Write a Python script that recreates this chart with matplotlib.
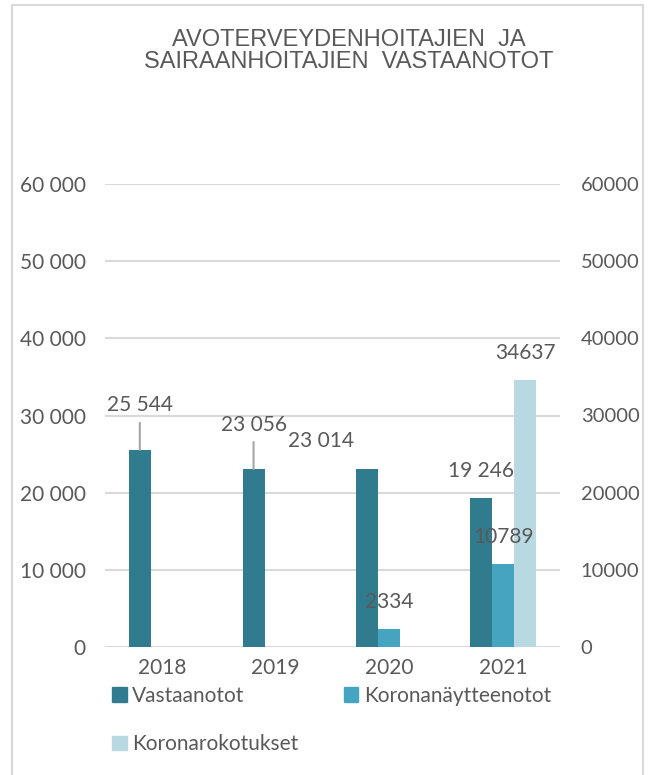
import matplotlib.pyplot as plt
import matplotlib.patches as mpatches
import numpy as np

years = ["2018", "2019", "2020", "2021"]
vastaanotot = [25544, 23056, 23014, 19246]
naytteenotot = [0, 0, 2334, 10789]
rokotukset = [0, 0, 0, 34637]
vast_labels = ["25 544", "23 056", "23 014", "19 246"]

c_dark = "#307b8d"
c_mid = "#45a5c0"
c_light = "#b8d8e2"
grey = "#595959"
font = ["Lato", "DejaVu Sans"]

fig = plt.figure(figsize=(6.51, 7.75), dpi=100)
fig.patches.append(mpatches.Rectangle((12 / 651, -0.01), 631 / 651, 1 - 5 / 775 + 0.01,
                                      transform=fig.transFigure, fill=False,
                                      edgecolor="#d9d9d9", linewidth=1.5))

ax = fig.add_axes([105 / 651, 1 - 647 / 775, 455 / 651, (647 - 184) / 775])
ax2 = ax.twinx()

x = np.arange(len(years))
w = 0.194
ax.bar(x - w, vastaanotot, w, color=c_dark, zorder=3)
ax2.bar(x, naytteenotot, w, color=c_mid, zorder=3)
ax2.bar(x + w, rokotukset, w, color=c_light, zorder=3)

for a in (ax, ax2):
    a.set_ylim(0, 60000)
    a.set_xlim(-0.5, 3.5)
    for s in a.spines.values():
        s.set_visible(False)
    a.tick_params(length=0, labelsize=15, labelcolor=grey)

ax.set_yticks(np.arange(0, 60001, 10000))
ax.set_yticklabels([f"{v:,}".replace(",", " ") for v in range(0, 60001, 10000)], family=font)
ax.tick_params(axis="y", pad=14)
ax2.set_yticks(np.arange(0, 60001, 10000))
ax2.set_yticklabels([str(v) for v in range(0, 60001, 10000)], family=font)
ax2.tick_params(axis="y", pad=15, labelsize=14.5)
ax.set_xticks(x)
ax.set_xticklabels(years, family=font)
ax.tick_params(axis="x", pad=8)
ax.grid(axis="y", color="#d9d9d9", linewidth=1.5, zorder=0)
ax.set_axisbelow(True)

# data labels (offsets in pixels from the top of each bar)
offsets = [(0, 45), (0, 44), (-46, 28), (0, 27)]
for i, v in enumerate(vastaanotot):
    dx, dy = offsets[i]
    ax.annotate(vast_labels[i], (x[i] - w, v), xytext=(dx, dy), textcoords="offset pixels",
                ha="center", va="center", fontsize=15, color=grey, family=font, zorder=5)
    if i < 2:
        ax.annotate("", (x[i] - w, v), xytext=(0, 27), textcoords="offset pixels",
                    arrowprops=dict(arrowstyle="-", color="#a6a6a6", lw=1.5,
                                    shrinkA=0, shrinkB=0))
for i, v in enumerate(naytteenotot):
    if v:
        ax2.annotate(str(v), (x[i], v), xytext=(0, 27), textcoords="offset pixels",
                     ha="center", va="center", fontsize=15, color=grey, family=font, zorder=5)
for i, v in enumerate(rokotukset):
    if v:
        ax2.annotate(str(v), (x[i] + w, v), xytext=(0, 27), textcoords="offset pixels",
                     ha="center", va="center", fontsize=15, color=grey, family=font, zorder=5)

fig.text(349 / 651, 1 - 51 / 775, "AVOTERVEYDENHOITAJIEN  JA\nSAIRAANHOITAJIEN  VASTAANOTOT",
         ha="center", va="center", fontsize=17, color=grey, linespacing=1.0,
         family=["Liberation Sans", "DejaVu Sans"])

# column-major order so the first row reads Vastaanotot, Koronanäytteenotot
handles = [mpatches.Patch(color=c_dark, label="Vastaanotot"),
           mpatches.Patch(color=c_light, label="Koronarokotukset"),
           mpatches.Patch(color=c_mid, label="Koronanäytteenotot")]
fig.legend(handles=handles, loc="upper left", bbox_to_anchor=(112 / 651, 1 - 686 / 775),
           ncol=2, frameon=False, prop={"family": font, "size": 15}, labelcolor=grey,
           handlelength=0.7, handleheight=0.7, handletextpad=0.25, columnspacing=2.2,
           labelspacing=1.35, borderaxespad=0, borderpad=0)

fig.savefig("out.png", dpi=100)
